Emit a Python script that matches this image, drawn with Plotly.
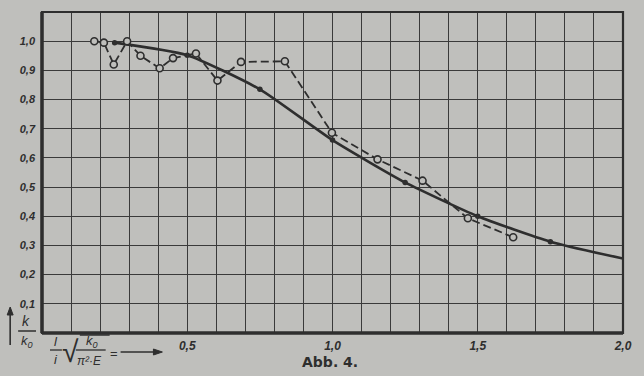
import plotly.graph_objects as go

# Experimental values (dashed, open circles)
exp_x = [0.18, 0.213, 0.247, 0.293, 0.339, 0.405, 0.451, 0.53, 0.604, 0.685, 0.836, 0.998, 1.155, 1.31, 1.466, 1.622]
exp_y = [1.0, 0.995, 0.92, 1.0, 0.95, 0.907, 0.942, 0.958, 0.865, 0.929, 0.931, 0.686, 0.595, 0.522, 0.393, 0.328]

# Theoretical curve (solid) with computed points (filled dots)
theo_x = [0.25, 0.5, 0.75, 1.0, 1.25, 1.5, 1.75, 2.0]
theo_y = [0.995, 0.952, 0.835, 0.661, 0.516, 0.40, 0.313, 0.255]
dot_x = [0.25, 0.5, 0.75, 1.0, 1.25, 1.5, 1.75]
dot_y = [0.995, 0.952, 0.835, 0.661, 0.516, 0.40, 0.313]

x_ticks = [0.5, 1.0, 1.5, 2.0]
x_ticktext = ["0,5", "1,0", "1,5", "2,0"]
y_ticks = [0.1, 0.2, 0.3, 0.4, 0.5, 0.6, 0.7, 0.8, 0.9, 1.0]
y_ticktext = ["0,1", "0,2", "0,3", "0,4", "0,5", "0,6", "0,7", "0,8", "0,9", "1,0"]

BG = "#bfbfbc"
INK = "#2e2e2e"
GRID = "#3a3a3a"

fig = go.Figure()
fig.add_trace(go.Scatter(x=theo_x, y=theo_y, mode="lines",
                         line=dict(color=INK, width=2.6, shape="spline", smoothing=0.55),
                         hoverinfo="skip"))
fig.add_trace(go.Scatter(x=dot_x, y=dot_y, mode="markers",
                         marker=dict(color=INK, size=5.5), hoverinfo="skip"))
fig.add_trace(go.Scatter(x=exp_x, y=exp_y, mode="lines+markers",
                         line=dict(color=INK, width=1.8, dash="8px,4px"),
                         marker=dict(symbol="circle", size=7, color=BG,
                                     line=dict(color=INK, width=1.6)),
                         hoverinfo="skip"))

grid = dict(showgrid=True, gridcolor=GRID, gridwidth=1.4)
fig.update_layout(
    width=644, height=376,
    margin=dict(l=42, r=18, t=12, b=43),
    paper_bgcolor=BG, plot_bgcolor=BG,
    showlegend=False,
    xaxis=dict(range=[0, 2.0], tickvals=x_ticks, ticktext=x_ticktext,
               minor=dict(dtick=0.1, tick0=0, ticks="", **grid),
               zeroline=False, showline=False, ticks="", **grid,
               tickfont=dict(family="Liberation Sans", size=12, color=INK, style="italic", weight="bold"),
               ticklabelstandoff=4),
    yaxis=dict(range=[0, 1.1], tickvals=y_ticks, ticktext=y_ticktext,
               zeroline=False, showline=False, ticks="", **grid,
               tickfont=dict(family="Liberation Sans", size=11, color=INK, style="italic", weight="bold"),
               ticklabelstandoff=6),
)

# frame: thin top/right, heavy left/bottom
fig.add_shape(type="rect", xref="paper", yref="paper", x0=0, y0=0, x1=1, y1=1,
              line=dict(color=INK, width=2.2))
fig.add_shape(type="line", xref="paper", yref="paper", x0=0, y0=0, x1=0, y1=1,
              line=dict(color=INK, width=3.5))
fig.add_shape(type="line", xref="paper", yref="paper", x0=0, y0=0, x1=1, y1=0,
              line=dict(color=INK, width=3.5))

W, H = 584.0, 321.0
def px(x, y):
    return (x - 42) / W, (333 - y) / H

def txt(x, y, s, size=12, italic=True, bold=False, family="Liberation Sans"):
    ax, ay = px(x, y)
    fig.add_annotation(x=ax, y=ay, xref="paper", yref="paper", text=s, showarrow=False,
                       xanchor="center", yanchor="middle",
                       font=dict(family=family, size=size, color=INK,
                                 style="italic" if italic else "normal",
                                 weight="bold" if bold else "normal"))

def seg(x0, y0, x1, y1, w=1.5):
    a0, b0 = px(x0, y0)
    a1, b1 = px(x1, y1)
    fig.add_shape(type="line", xref="paper", yref="paper", x0=a0, y0=b0, x1=a1, y1=b1,
                  line=dict(color=INK, width=w))

def tri(points):
    pts = [px(x, y) for x, y in points]
    path = "M " + " L ".join(f"{a},{b}" for a, b in pts) + " Z"
    fig.add_shape(type="path", xref="paper", yref="paper", path=path,
                  fillcolor=INK, line=dict(color=INK, width=1))

# y-axis quantity k / k0 with upward arrow
txt(26, 321, "k", size=14)
seg(18, 331, 36, 331, 1.5)
txt(27, 341, "k<sub>0</sub>", size=13)
seg(10, 345, 10, 314, 1.6)
tri([(7, 315), (13, 315), (10, 307)])

# x-axis quantity  l/i * sqrt(k0 / (pi^2 E)) = ->
txt(56, 342, "l", size=13)
seg(50, 350, 62, 350, 1.3)
txt(56, 360, "i", size=13)
txt(71, 352, "√", size=30, italic=False)
seg(80, 335, 110, 335, 1.5)
txt(92, 342, "k<sub>0</sub>", size=13)
seg(76, 350, 106, 350, 1.3)
txt(90, 361, "π²·E", size=12)
txt(114, 353, "=", size=13, italic=False)
seg(121, 352, 156, 352, 1.6)
tri([(154, 349), (154, 355), (163, 352)])

# figure caption
txt(331, 362, "Abb. 4.", size=14, italic=False, bold=True, family="DejaVu Sans")

fig.write_html("out.html", config={"displayModeBar": False},
               post_script="document.body.style.margin='0';")
